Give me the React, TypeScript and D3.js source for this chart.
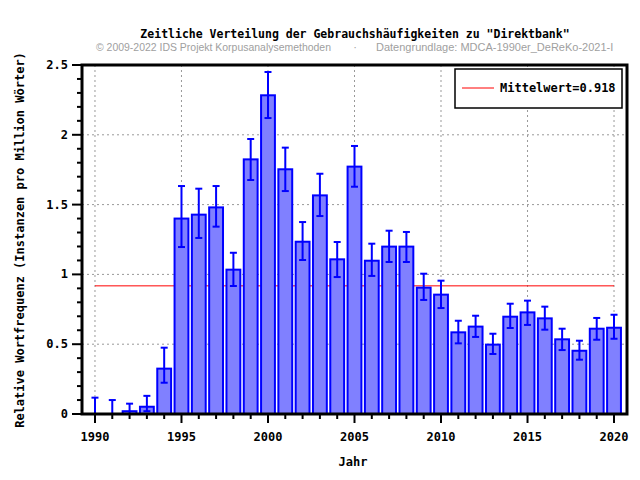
import React from "react";
import * as d3 from "d3";

const years = [1990,1991,1992,1993,1994,1995,1996,1997,1998,1999,2000,2001,2002,2003,2004,2005,2006,2007,2008,2009,2010,2011,2012,2013,2014,2015,2016,2017,2018,2019,2020];
const values = [0,0,0.02,0.052,0.325,1.40,1.428,1.48,1.034,1.824,2.283,1.753,1.234,1.566,1.108,1.772,1.098,1.199,1.199,0.905,0.855,0.585,0.626,0.497,0.697,0.728,0.685,0.535,0.453,0.611,0.618];
const errHigh = [0.117,0.10,0.074,0.13,0.475,1.633,1.614,1.633,1.155,1.97,2.45,1.908,1.375,1.721,1.232,1.92,1.22,1.313,1.304,1.005,0.955,0.668,0.704,0.575,0.79,0.812,0.769,0.611,0.525,0.688,0.711];
const errLow = [0,0,0,0.02,0.224,1.196,1.261,1.342,0.917,1.676,2.12,1.597,1.103,1.418,0.981,1.628,0.989,1.089,1.089,0.817,0.759,0.506,0.552,0.43,0.616,0.638,0.604,0.458,0.389,0.532,0.539];
const meanValue = 0.918;
const yMajorTicks = [0, 0.5, 1, 1.5, 2, 2.5];
const xMajorTicks = [1990, 1995, 2000, 2005, 2010, 2015, 2020];

const title = 'Zeitliche Verteilung der Gebrauchshäufigkeiten zu "Direktbank"';
const copyright = "© 2009-2022 IDS Projekt Korpusanalysemethoden";
const source = "Datengrundlage: MDCA-1990er_DeReKo-2021-I";
const yLabel = "Relative Wortfrequenz (Instanzen pro Million Wörter)";
const xLabel = "Jahr";
const legendLabel = "Mittelwert=0.918";

const W = 640, H = 480;
const L = 82, R = 627, T = 65, B = 414;
const mono = "'DejaVu Sans Mono', monospace";
const sans = "'Liberation Sans', Arial, sans-serif";

export default function App() {
  const x = d3.scaleLinear().domain([1989.25, 2020.75]).range([L, R]);
  const y = d3.scaleLinear().domain([0, 2.5]).range([B, T]);
  const bw = (x(1991) - x(1990)) * 0.8;
  const yMinor = d3.range(0, 2.5001, 0.1).map(v => +v.toFixed(2));
  const meanPath = d3.line<number>()((
    [[x(1990), y(meanValue)], [x(2020), y(meanValue)]] as any));
  return (
    <svg width={W} height={H} style={{ position: "absolute", left: 0, top: 0, background: "#fff" }}>
      <rect x={0} y={0} width={W} height={H} fill="#fff" />
      <text x={355} y={38} textAnchor="middle" fontFamily={mono} fontWeight="bold" fontSize={11.5} fill="#000">{title}</text>
      <text x={96} y={51} fontFamily={sans} fontSize={11} fill="#a0a0a0" textLength={235} lengthAdjust="spacingAndGlyphs">{copyright}</text>
      <text x={355} y={51} textAnchor="middle" fontFamily={sans} fontSize={11} fill="#a0a0a0">·</text>
      <text x={376} y={51} fontFamily={sans} fontSize={11} fill="#a0a0a0">{source}</text>

      {/* grid */}
      {xMajorTicks.map(t => (
        <line key={"gx" + t} x1={x(t)} x2={x(t)} y1={T} y2={B} stroke="#999" strokeDasharray="2,3" strokeWidth={1} />
      ))}
      {yMajorTicks.filter(t => t > 0 && t < 2.5).map(t => (
        <line key={"gy" + t} x1={L} x2={R} y1={y(t)} y2={y(t)} stroke="#999" strokeDasharray="2,3" strokeWidth={1} />
      ))}

      {/* mean line */}
      <path d={meanPath || ""} stroke="#ff0000" strokeWidth={1} fill="none" />

      {/* bars */}
      {years.map((yr, i) => values[i] > 0 ? (
        <rect key={"b" + yr} x={x(yr) - bw / 2} y={y(values[i])} width={bw} height={y(0) - y(values[i])}
          fill="#8080ff" stroke="#0000ff" strokeWidth={2} />
      ) : null)}
      {/* error bars */}
      {years.map((yr, i) => (
        <g key={"e" + yr} stroke="#0000ff" strokeWidth={2}>
          <line x1={x(yr)} x2={x(yr)} y1={y(errLow[i])} y2={y(errHigh[i])} />
          <line x1={x(yr) - 3.5} x2={x(yr) + 3.5} y1={y(errHigh[i])} y2={y(errHigh[i])} />
          <line x1={x(yr) - 3.5} x2={x(yr) + 3.5} y1={y(errLow[i])} y2={y(errLow[i])} />
        </g>
      ))}

      {/* axes box */}
      <rect x={L} y={T} width={R - L} height={B - T} fill="none" stroke="#000" strokeWidth={3} />
      {yMinor.map(t => {
        const major = yMajorTicks.some(m => Math.abs(m - t) < 1e-6);
        return <line key={"yt" + t} x1={L - (major ? 10 : 5)} x2={L} y1={y(t)} y2={y(t)} stroke="#000" strokeWidth={2} />;
      })}
      {years.map(yr => {
        const major = xMajorTicks.includes(yr);
        return <line key={"xt" + yr} x1={x(yr)} x2={x(yr)} y1={B} y2={B + (major ? 9 : 5)} stroke="#000" strokeWidth={2} />;
      })}
      {yMajorTicks.map(t => (
        <text key={"yl" + t} x={L - 14} y={y(t) + 4} textAnchor="end" fontFamily={mono} fontWeight="bold" fontSize={12} fill="#000">{t === 0 ? "0" : String(t)}</text>
      ))}
      {xMajorTicks.map(t => (
        <text key={"xl" + t} x={x(t)} y={441} textAnchor="middle" fontFamily={mono} fontWeight="bold" fontSize={12} fill="#000">{t}</text>
      ))}
      <text x={353} y={466} textAnchor="middle" fontFamily={mono} fontWeight="bold" fontSize={12} fill="#000">{xLabel}</text>
      <text transform={`translate(24,240) rotate(-90)`} textAnchor="middle" fontFamily={mono} fontWeight="bold" fontSize={12} fill="#000">{yLabel}</text>

      {/* legend */}
      <rect x={455} y={69} width={167} height={39} fill="#fff" stroke="#000" strokeWidth={1.5} />
      <line x1={462} x2={494} y1={88} y2={88} stroke="#ff0000" strokeWidth={1} />
      <text x={500} y={92} fontFamily={mono} fontWeight="bold" fontSize={12} fill="#000">{legendLabel}</text>
    </svg>
  );
}
